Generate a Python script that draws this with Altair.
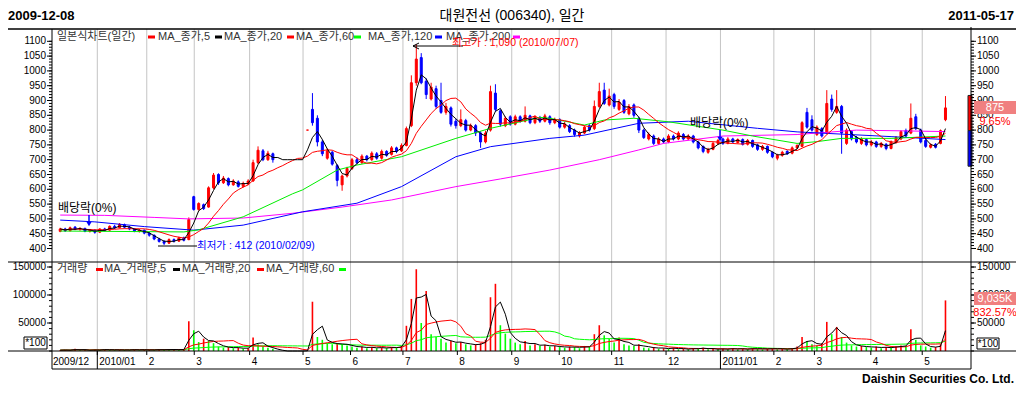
import altair as alt
import pandas as pd

# ---------------- text content ----------------
start_date = "2009-12-08"
end_date = "2011-05-17"
title_text = "대원전선 (006340), 일간"
footer_text = "Daishin Securities Co. Ltd."
max_label = "최고가 : 1,090 (2010/07/07)"
min_label = "최저가 : 412 (2010/02/09)"
exdiv_label = "배당락(0%)"
last_price = "875"
last_change = "9.65%"
last_vol = "9,035K"
last_vol_change = "832.57%"
unit_label = "*100"

# ---------------- candle data (one candle ~ 2 trading days) ----------------
opens = [458,466,460,472,465,468,458,462,455,466,
         462,475,470,480,472,466,458,462,452,445,
         432,424,418,430,425,436,430,575,532,548,
         540,605,650,622,636,615,625,610,618,628,
         690,730,700,720,700,700,700,700,700,700,
         800,870,840,760,705,725,680,615,645,670,
         700,690,712,700,720,705,728,718,740,730,
         748,815,960,1045,965,905,940,900,860,875,
         830,815,832,800,815,790,760,800,925,865,
         815,845,820,845,830,848,825,842,830,845,
         825,835,810,815,800,780,790,815,805,880,
         935,885,920,870,900,855,885,840,800,770,
         780,755,770,760,780,770,785,770,780,760,
         745,725,735,755,770,755,770,758,768,752,
         765,750,735,745,725,705,715,728,722,740,
         745,860,835,785,805,790,905,860,880,755,
         795,775,755,768,750,760,745,752,738,758,
         770,798,790,845,800,765,742,752,755,835]
closes = [466,460,470,465,468,458,462,455,466,462,
          475,470,482,472,466,458,462,452,445,432,
          424,418,430,425,436,428,498,532,552,535,
          605,648,622,638,615,628,610,620,628,690,
          732,700,722,700,700,700,700,700,700,700,
          800,825,760,720,730,685,630,645,670,700,
          690,712,700,722,705,728,715,740,728,748,
          805,960,1040,960,920,945,880,860,880,820,
          815,835,800,815,790,760,790,930,870,820,
          840,820,845,830,850,825,845,830,848,825,
          835,810,820,795,785,790,810,800,880,930,
          890,915,880,895,860,880,850,800,775,785,
          755,770,760,780,770,790,770,780,760,740,
          728,735,755,765,755,770,760,768,752,765,
          745,735,745,725,710,715,725,720,740,748,
          825,810,800,810,780,890,870,880,790,800,
          770,760,770,750,760,745,755,738,760,775,
          795,780,840,805,760,745,750,742,798,875]
highs = [470,470,474,476,472,470,466,465,468,470,
         478,480,486,484,476,468,466,464,455,447,
         436,428,434,434,440,440,505,578,556,552,
         610,655,654,645,640,634,630,626,634,700,
         745,736,730,724,700,700,700,700,700,700,
         800,925,850,768,738,730,685,650,676,706,
         708,718,716,728,726,734,732,746,744,755,
         812,985,1090,1060,975,960,950,960,892,880,
         838,870,838,822,820,796,798,950,955,870,
         846,850,852,850,880,852,850,848,855,850,
         842,840,828,820,805,796,816,820,900,960,
         960,940,926,905,905,888,890,845,805,792,
         785,776,775,786,785,796,790,786,784,764,
         748,740,760,770,774,776,774,772,772,770,
         768,754,750,748,728,720,730,732,745,752,
         830,875,850,816,810,935,920,935,885,806,
         800,780,776,772,766,764,760,756,765,780,
         800,805,890,855,805,770,755,756,802,915]
lows = [455,456,458,462,460,455,454,450,452,458,
        460,466,468,468,462,455,454,448,440,428,
        420,412,416,420,422,424,428,528,528,530,
        538,600,615,618,610,612,606,606,614,625,
        685,695,696,690,700,700,700,700,700,700,
        800,815,745,712,700,680,610,595,640,665,
        684,686,694,696,700,700,710,714,722,726,
        745,810,950,955,905,900,872,855,852,812,
        805,810,795,796,780,740,755,795,862,812,
        810,815,816,825,826,820,820,824,826,818,
        820,805,805,790,778,775,786,795,800,875,
        885,880,872,865,855,850,842,790,770,765,
        750,750,755,756,765,766,765,766,755,735,
        722,720,732,750,750,752,756,754,748,748,
        740,730,730,720,705,698,710,716,718,736,
        742,805,795,780,775,785,862,855,720,750,
        765,755,750,745,745,740,740,732,735,754,
        766,775,786,800,755,740,738,738,752,830]
volumes = [1500,2000,1200,4000,1500,1800,1000,2500,1800,3000,
           2000,1500,2500,1800,1500,3500,1200,2000,2500,1500,
           3000,2500,2000,3500,1800,2500,53000,37000,16000,22000,
           18000,14000,8000,6000,7000,5000,6000,4000,5000,24000,
           12000,8000,6000,4000,0,0,0,0,0,0,
           1000,88000,25000,20000,14000,12000,14000,12000,10000,8000,
           6000,8000,5000,7000,5000,6000,5000,7000,6000,9000,
           45000,93000,146000,50000,107000,30000,25000,22000,15000,18000,
           14000,16000,12000,10000,12000,14000,20000,96000,120000,46000,
           31000,22000,15000,12000,18000,10000,12000,9000,11000,8000,
           9000,7000,6000,8000,7000,5000,9000,8000,30000,46000,
           28000,22000,15000,24000,12000,10000,9000,12000,6000,5000,
           7000,4000,5000,4000,6000,3000,4000,3000,5000,4000,
           6000,3000,4000,3000,4000,3000,5000,3000,4000,3000,
           5000,4000,3000,4000,5000,3000,4000,3000,5000,8000,
           25000,18000,12000,10000,14000,52000,30000,43000,25000,15000,
           10000,8000,9000,7000,6000,8000,5000,7000,6000,8000,
           10000,9000,39000,20000,10000,8000,6000,7000,12000,90350]

# long moving averages (candle index, price)
ma60_idx = [0, 17, 25, 28, 37, 47, 49, 56, 60, 69, 80, 87, 97, 99, 106, 110, 116, 123, 134, 140, 149, 153, 158, 168, 179]
ma60_val = [459, 457, 456, 463, 507, 585, 598, 665, 682, 710, 772, 806, 843, 840, 817, 834, 840, 828, 800, 780, 755, 761, 772, 772, 780]
ma120_idx = [0, 7, 17, 27, 37, 49, 60, 69, 80, 87, 99, 106, 117, 127, 141, 149, 168, 179]
ma120_val = [496, 490, 474, 462, 479, 524, 553, 609, 710, 744, 772, 783, 823, 830, 806, 794, 778, 768]
ma200_idx = [0, 9, 19, 26, 37, 47, 57, 67, 80, 89, 99, 109, 117, 122, 134, 149, 161, 179]
ma200_val = [513, 512, 505, 500, 503, 519, 540, 564, 609, 635, 665, 700, 733, 755, 780, 785, 800, 795]

prev_close = 798
upper_limit = 917
lower_limit = 678

# month boundaries (candle index) and their labels
month_pos = [7.5, 17.5, 27.1, 38.3, 49.1, 58.7, 69.3, 80.3, 91.3, 100.9, 111.5, 122.5, 133.5, 144.3, 152.5, 163.9, 174.3]
month_lab = ["2010/01", "2", "3", "4", "5", "6", "7", "8", "9", "10", "11", "12", "2011/01", "2", "3", "4", "5"]
first_label = "2009/12"
year_pos = [7.5, 133.5]

price_ticks = [400, 450, 500, 550, 600, 650, 700, 750, 800, 850, 900, 950, 1000, 1050, 1100]
price_minor = list(range(400, 1101, 10))
vol_ticks = [50000, 100000, 150000]
vol_minor = list(range(0, 150001, 10000))

price_legend_text = ["일본식차트(일간)", "MA_종가,5", "MA_종가,20", "MA_종가,60", "MA_종가,120", "MA_종가,200"]
price_legend_color = ["#ff0000", "#000000", "#ff0000", "#00ff00", "#0000ff", "#ff00ff"]
vol_legend_text = ["거래량", "MA_거래량,5", "MA_거래량,20", "MA_거래량,60"]
vol_legend_color = ["#ff0000", "#000000", "#ff0000", "#00ff00"]

# ---------------- layout (pixels relative to the plot origin) ----------------
W, H = 919, 322
FONT = "Liberation Sans, Noto Sans CJK KR"
price_legend_tx = [5, 106, 172, 244, 316, 394]
price_legend_mx = [96, 163, 235, 302, 383, 461]
vol_legend_tx = [5, 52, 130, 214]
vol_legend_mx = [44, 121, 205, 287]

RED, BLUE, GREEN = "#ff0000", "#0000ff", "#00ff00"

df = pd.DataFrame({"i": list(range(len(closes))), "o": opens, "c": closes,
                   "h": highs, "l": lows, "v": volumes})
df["col"] = [RED if c >= o else BLUE for o, c in zip(opens, closes)]
# volume bar colour: red when volume rose from the previous bar, green when it fell
df["vcol"] = [RED if k == 0 or volumes[k] >= volumes[k - 1] else GREEN for k in range(len(volumes))]

XS = alt.Scale(domain=[-0.65, 183.15], nice=False, zero=False)
PY = alt.Scale(domain=[400, 1100], range=[219.5, 12.3], nice=False, zero=False)
VY = alt.Scale(domain=[0, 150000], range=[322, 238], nice=False, zero=False)

ONE = pd.DataFrame({"a": [0]})


def X(f):
    return alt.X(f, scale=XS, axis=None)


def YP(f):
    return alt.Y(f, scale=PY, axis=None)


def YV(f):
    return alt.Y(f, scale=VY, axis=None)


def text(s, x, y, size=11, color="black", align="left", weight="normal"):
    return alt.Chart(ONE).mark_text(text=s, fontSize=size, color=color, align=align,
                                    baseline="middle", fontWeight=weight, font=FONT
                                    ).encode(x=alt.value(x), y=alt.value(y))


def seg(x1, y1, x2, y2, color="black", w=1):
    return alt.Chart(ONE).mark_rule(color=color, strokeWidth=w).encode(
        x=alt.value(x1), y=alt.value(y1), x2=alt.value(x2), y2=alt.value(y2))


def box(x1, x2, y1, y2, fill, stroke=None):
    kw = {"fill": fill}
    if stroke:
        kw.update(stroke=stroke, strokeWidth=1)
    return alt.Chart(ONE).mark_rect(**kw).encode(
        x=alt.value(x1), x2=alt.value(x2), y=alt.value(y1), y2=alt.value(y2))


layers = []

# month grid
mdf = pd.DataFrame({"m": month_pos, "lab": month_lab})
layers.append(alt.Chart(mdf).mark_rule(color="#c4c4c4", strokeWidth=1).encode(
    x=X("m:Q"), y=alt.value(0), y2=alt.value(H)))

traded = alt.Chart(df).transform_filter(alt.datum.v > 0)

# volume bars + MAs
layers.append(traded.mark_bar(size=1.6).encode(
    x=X("i:Q"), y=YV("v:Q"), y2=alt.datum(0), color=alt.Color("vcol:N", scale=None)))
for frame, col in [([-29, 0], GREEN), ([-9, 0], RED), ([-2, 0], "#000000")]:
    layers.append(alt.Chart(df).transform_window(
        mv="mean(v)", frame=frame, sort=[alt.SortField("i")]).mark_line(
        color=col, strokeWidth=1).encode(x=X("i:Q"), y=YV("mv:Q")))

# candles
layers.append(traded.mark_rule(strokeWidth=1).encode(
    x=X("i:Q"), y=YP("l:Q"), y2="h:Q", color=alt.Color("col:N", scale=None)))
layers.append(traded.mark_bar(size=2, strokeWidth=1).encode(
    x=X("i:Q"), y=YP("o:Q"), y2="c:Q", color=alt.Color("col:N", scale=None),
    stroke=alt.Stroke("col:N", scale=None)))

# long MAs
for idx, val, col in [(ma200_idx, ma200_val, "#ff00ff"), (ma120_idx, ma120_val, BLUE),
                      (ma60_idx, ma60_val, "#00ee00")]:
    d = pd.DataFrame({"i": idx, "p": val})
    layers.append(alt.Chart(d).mark_line(color=col, strokeWidth=1).encode(
        x=X("i:Q"), y=YP("p:Q")))
# short MAs computed from closes
for frame, col in [([-9, 0], RED), ([-2, 0], "#000000")]:
    layers.append(alt.Chart(df).transform_window(
        mp="mean(c)", frame=frame, sort=[alt.SortField("i")]).mark_line(
        color=col, strokeWidth=1).encode(x=X("i:Q"), y=YP("mp:Q")))

# price limit band at right edge
band = pd.DataFrame({"a": [prev_close, prev_close], "b": [upper_limit, lower_limit],
                     "col": [RED, BLUE]})
layers.append(alt.Chart(band).mark_rect(stroke="#222222", strokeWidth=1).encode(
    x=alt.value(916), x2=alt.value(920), y=YP("a:Q"), y2="b:Q",
    color=alt.Color("col:N", scale=None)))

# frame lines
layers += [
    seg(-52, 0, 972, 0, w=1.5),
    seg(-52, 233, 972, 233),
    seg(-52, H, 972, H),
    seg(0, 340, W, 340),
    seg(0, 0, 0, 340),
    seg(W, -2, W, 340),
]

# axes ticks & labels
pt = pd.DataFrame({"p": price_ticks, "lab": [str(p) for p in price_ticks]})
pm = pd.DataFrame({"p": price_minor})
vt = pd.DataFrame({"p": vol_ticks, "lab": [str(p) for p in vol_ticks]})
vm = pd.DataFrame({"p": vol_minor})
for xa, xb, xc, xd, lx, al in [(-5, 0, -3, 0, -6, "right"), (W, W + 5, W, W + 3, W + 6, "left")]:
    layers.append(alt.Chart(pm).mark_rule(color="black").encode(
        y=YP("p:Q"), x=alt.value(xc), x2=alt.value(xd)))
    layers.append(alt.Chart(pt).mark_rule(color="black").encode(
        y=YP("p:Q"), x=alt.value(xa), x2=alt.value(xb)))
    layers.append(alt.Chart(pt).mark_text(align=al, baseline="middle", fontSize=10, font=FONT).encode(
        y=YP("p:Q"), x=alt.value(lx), text="lab:N"))
    layers.append(alt.Chart(vm).mark_rule(color="black").encode(
        y=YV("p:Q"), x=alt.value(xc), x2=alt.value(xd)))
    layers.append(alt.Chart(vt).mark_rule(color="black").encode(
        y=YV("p:Q"), x=alt.value(xa), x2=alt.value(xb)))
    layers.append(alt.Chart(vt).mark_text(align=al, baseline="middle", fontSize=10, font=FONT).encode(
        y=YV("p:Q"), x=alt.value(lx), text="lab:N"))

# x axis (month ticks and labels)
layers.append(alt.Chart(mdf).mark_rule(color="black").encode(
    x=X("m:Q"), y=alt.value(H), y2=alt.value(H + 4)))
ydf = pd.DataFrame({"m": year_pos})
layers.append(alt.Chart(ydf).mark_rule(color="black").encode(
    x=X("m:Q"), y=alt.value(H), y2=alt.value(340)))
layers.append(alt.Chart(mdf).mark_text(align="left", baseline="middle", dx=2, fontSize=10, font=FONT).encode(
    x=X("m:Q"), y=alt.value(333), text="lab:N"))
layers.append(text(first_label, 1, 333, size=10))

# legends
for s, x in zip(price_legend_text, price_legend_tx):
    layers.append(text(s, x, 8, size=11, color="#333333"))
for c, x in zip(price_legend_color, price_legend_mx):
    layers.append(box(x, x + 7, 6.5, 9.5, c))
for s, x in zip(vol_legend_text, vol_legend_tx):
    layers.append(text(s, x, 239.5, size=11, color="#333333"))
for c, x in zip(vol_legend_color, vol_legend_mx):
    layers.append(box(x, x + 7, 239, 242, c))

# annotations
layers += [
    seg(361, 17, 411, 17),
    seg(361, 17, 367, 14),
    seg(361, 17, 367, 20),
    text(max_label, 400, 14, size=10.5, color="#ff0000"),
    seg(106, 217, 145, 217),
    text(min_label, 145, 217, size=10.5, color="#0000ff"),
    text(exdiv_label, 6, 178.5, size=12),
    seg(37, 186, 37, 194, color=BLUE, w=1.5),
    alt.Chart(ONE).mark_point(shape="triangle-down", filled=True, size=28, color=BLUE, opacity=1).encode(
        x=alt.value(37), y=alt.value(195)),
    text(exdiv_label, 638, 93.5, size=12),
    seg(668, 101, 668, 109, color=BLUE, w=1.5),
    alt.Chart(ONE).mark_point(shape="triangle-down", filled=True, size=28, color=BLUE, opacity=1).encode(
        x=alt.value(668), y=alt.value(110)),
]

# right side value boxes
layers += [
    box(922, 964, 72, 85, "#f08080"),
    text(last_price, 943, 78.5, size=11, color="white", align="center"),
    text(last_change, 943, 93, size=11, color="#ff0000", align="center"),
    box(922, 964, 263, 276, "#f08080"),
    text(last_vol, 943, 269.5, size=11, color="white", align="center"),
    text(last_vol_change, 943, 284, size=11, color="#ff0000", align="center"),
    box(-28, -5, 308, 320, "white", stroke="black"),
    text(unit_label, -16.5, 314, size=10, align="center"),
    box(925, 947, 309, 320, "white", stroke="black"),
    text(unit_label, 936, 314.5, size=10, align="center"),
]

# header and footer
layers += [
    text(start_date, -44, -13.5, size=13, weight="bold"),
    text(title_text, 460, -13, size=14, align="center"),
    text(end_date, 962, -13.5, size=13, weight="bold", align="right"),
    text(footer_text, 962, 350, size=12, weight="bold", align="right"),
]

chart = alt.layer(*layers).resolve_scale(y="independent").properties(
    width=W, height=H,
    autosize=alt.AutoSizeParams(type="none"),
    padding={"left": 44, "top": 21, "right": 45, "bottom": 34},
    background="white",
).configure_view(strokeWidth=0)

chart.save("out.html", embed_options={"renderer": "svg", "actions": False})
